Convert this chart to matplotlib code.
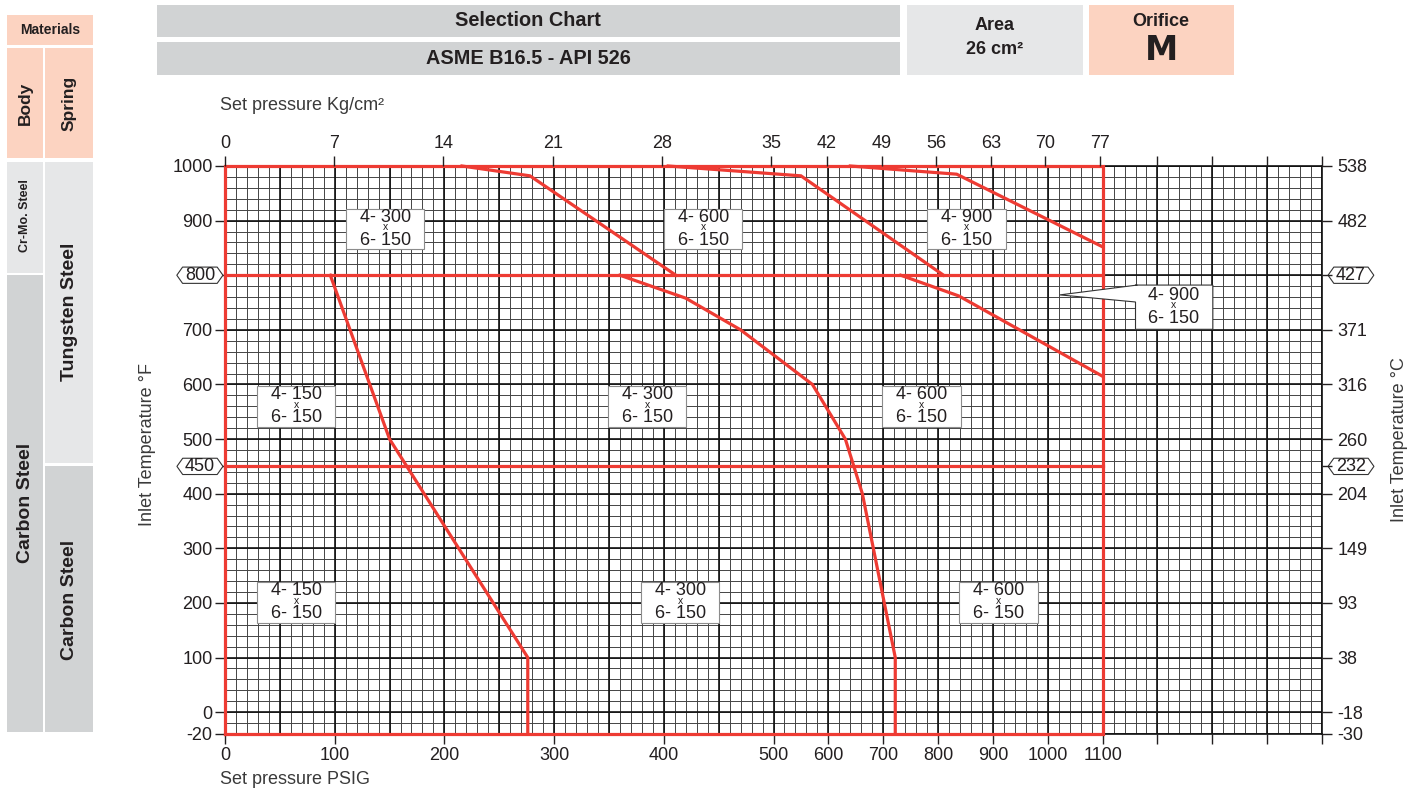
import numpy as np
import matplotlib
matplotlib.use("Agg")
import matplotlib.pyplot as plt
from matplotlib.patches import Rectangle, Polygon
from matplotlib.path import Path

plt.rcParams['font.family'] = ['Liberation Sans', 'DejaVu Sans']
COND = ['Liberation Sans Narrow', 'Liberation Sans', 'DejaVu Sans']

W, H = 1407, 799
RED = '#ee3b33'
INK = '#231f20'
PEACH = '#fcd3c1'
GRAY = '#d1d3d4'
LIGHT = '#e6e7e8'

# ---- data ----
psi_ticks = [0, 100, 200, 300, 400, 500, 600, 700, 800, 900, 1000, 1100]
kg_ticks = [0, 7, 14, 21, 28, 35, 42, 49, 56, 63, 70, 77]
temp_f = [1000, 900, 700, 600, 500, 400, 300, 200, 100, 0, -20]
temp_c = ['538', '482', '371', '316', '260', '204', '149', '93', '38', '-18', '-30']
band_f = [800, 450]
band_c = ['427', '232']

# boundary curves (psig, deg F)
curve_a_psi = [216, 278, 411]
curve_a_t = [1000, 982, 800]
curve_b_psi = [404, 550, 810]
curve_b_t = [1000, 982, 800]
curve_c_psi = [640, 834, 1100]
curve_c_t = [1000, 985, 852]
curve_d_psi = [96, 150, 276, 276]
curve_d_t = [800, 500, 100, -20]
curve_e_psi = [360, 420, 470, 571, 631, 662, 722, 722]
curve_e_t = [800, 758, 700, 600, 500, 400, 100, -20]
curve_f_psi = [732, 838, 1100]
curve_f_t = [800, 762, 615]

# region labels: inlet rating, position (psig, deg F)
region_rating = ['300', '600', '900', '150', '300', '600', '150', '300', '600']
region_psi = [146, 436, 852, 65, 385, 770, 65, 415, 910]
region_t = [885, 885, 885, 560, 560, 560, 201, 201, 201]


# chart paper: 10 psi per cell up to 500, 20 psi per cell above
def fwd_x(p):
    p = np.asarray(p, float)
    return np.where(p <= 500, p / 10.0, 50 + (p - 500) / 20.0)


def inv_x(u):
    u = np.asarray(u, float)
    return np.where(u <= 50, u * 10.0, 500 + (u - 50) * 20.0)


def fwd_y(t):
    t = np.asarray(t, float)
    return np.where(t >= 0, t / 20.0, t / 10.0)


def inv_y(v):
    v = np.asarray(v, float)
    return np.where(v >= 0, v * 20.0, v * 10.0)


def label_box(x0, y0, width, height, mutation_size):
    px, py = 0.75 * mutation_size, 0.02 * mutation_size
    x0, y0 = x0 - px, y0 - py
    w, h = width + 2 * px, height + 2 * py
    return Path([(x0, y0), (x0 + w, y0), (x0 + w, y0 + h), (x0, y0 + h), (x0, y0)], closed=True)


def hex_box(x0, y0, width, height, mutation_size):
    px, py = 0.12 * mutation_size, -0.02 * mutation_size
    d = 0.32 * mutation_size
    x0, y0 = x0 - px, y0 - py
    w, h = width + 2 * px, height + 2 * py
    return Path([(x0, y0), (x0 + w, y0), (x0 + w + d, y0 + h / 2), (x0 + w, y0 + h),
                 (x0, y0 + h), (x0 - d, y0 + h / 2), (x0, y0)], closed=True)


fig = plt.figure(figsize=(W / 100, H / 100), dpi=100)


def px_rect(x0, y0, x1, y1, color):
    fig.add_artist(Rectangle((x0 / W, 1 - y1 / H), (x1 - x0) / W, (y1 - y0) / H,
                             transform=fig.transFigure, fc=color, ec='none'))


def px_text(x, y, s, **kw):
    kw.setdefault('ha', 'center')
    kw.setdefault('va', 'center')
    kw.setdefault('color', INK)
    fig.text(x / W, 1 - y / H, s, **kw)


# header
px_rect(157, 5, 900, 37, GRAY)
px_rect(157, 42, 900, 75, GRAY)
px_rect(907, 5, 1083, 75, LIGHT)
px_rect(1089, 5, 1234, 75, PEACH)
px_text(528, 21, 'Selection Chart', family=COND, weight='bold', fontsize=14.3)
px_text(528, 59, 'ASME B16.5 - API 526', family=COND, weight='bold', fontsize=14.3)
px_text(995, 25, 'Area', family=COND, weight='bold', fontsize=13)
px_text(995, 50, '26 cm²', family=COND, weight='bold', fontsize=13)
px_text(1161, 21, 'Orifice', family=COND, weight='bold', fontsize=13)
px_text(1161, 51, 'M', family='DejaVu Sans', weight='bold', fontsize=24)

# materials column
px_rect(7, 15, 93, 45, PEACH)
px_rect(7, 48, 43, 158, PEACH)
px_rect(45, 48, 93, 158, PEACH)
px_rect(7, 162, 43, 273, LIGHT)
px_rect(45, 162, 93, 463, LIGHT)
px_rect(7, 275, 43, 732, GRAY)
px_rect(45, 466, 93, 732, GRAY)
px_text(50, 30, 'Materials', family=COND, weight='bold', fontsize=10)
px_text(25, 103, 'Body', family=COND, weight='bold', fontsize=12.5, rotation=90)
px_text(69, 103, 'Spring', family=COND, weight='bold', fontsize=12.5, rotation=90)
px_text(25, 216, 'Cr-Mo. Steel', family=COND, weight='bold', fontsize=9, rotation=90)
px_text(69, 312, 'Tungsten Steel', family=COND, weight='bold', fontsize=14, rotation=90)
px_text(25, 503, 'Carbon Steel', family=COND, weight='bold', fontsize=14, rotation=90)
px_text(69, 600, 'Carbon Steel', family=COND, weight='bold', fontsize=14, rotation=90)

# main chart
ax = fig.add_axes([225 / W, (H - 734) / H, (1322 - 225) / W, (734 - 166) / H])
ax.set_xscale('function', functions=(fwd_x, inv_x))
ax.set_yscale('function', functions=(fwd_y, inv_y))
ax.set_xlim(0, 1500)
ax.set_ylim(-20, 1000)

minor_x = list(range(0, 500, 10)) + list(range(500, 1501, 20))
major_x = list(range(0, 500, 50)) + list(range(500, 1501, 100))
minor_y = [-20, -10] + list(range(0, 1001, 20))
major_y = [-20] + list(range(0, 1001, 100))
ax.vlines(minor_x, -20, 1000, colors='#444444', lw=0.7, zorder=1)
ax.hlines(minor_y, 0, 1500, colors='#444444', lw=0.7, zorder=1)
ax.vlines(major_x, -20, 1000, colors='#111111', lw=1.2, zorder=1.5)
ax.hlines(major_y, 0, 1500, colors='#111111', lw=1.2, zorder=1.5)

# red boundaries
red = dict(color=RED, lw=2.3, zorder=4, solid_joinstyle='miter', clip_on=False)
ax.plot([0, 1100, 1100, 0, 0], [-20, -20, 1000, 1000, -20], **red)
for t in band_f:
    ax.plot([0, 1100], [t, t], **red)
for xs, ys in [(curve_a_psi, curve_a_t), (curve_b_psi, curve_b_t), (curve_c_psi, curve_c_t),
               (curve_d_psi, curve_d_t), (curve_e_psi, curve_e_t), (curve_f_psi, curve_f_t)]:
    ax.plot(xs, ys, **red)

# region labels
for rating, p, t in zip(region_rating, region_psi, region_t):
    ax.text(p, t, f'4- {rating}\n6- 150', ha='center', va='center', fontsize=13,
            linespacing=1.45, color=INK, zorder=5,
            bbox=dict(boxstyle=label_box, fc='white', ec='#8c8c8c', lw=0.8))
    ax.text(p, t + 3, 'x', ha='center', va='center', fontsize=7.5, color=INK, zorder=6)

# callout for the narrow 4-900 band
ax.add_patch(Polygon([(1160, 782), (1301, 782), (1301, 701), (1160, 701), (1160, 751),
                      (1022, 764), (1163, 782)], closed=True, fc='white', ec='#333333',
                     lw=0.8, zorder=5))
ax.text(1230, 742, '4- 900\n6- 150', ha='center', va='center', fontsize=13,
        linespacing=1.45, color=INK, zorder=6)
ax.text(1230, 745, 'x', ha='center', va='center', fontsize=7.5, color=INK, zorder=6)

for s in ax.spines.values():
    s.set_color('#111111')
    s.set_linewidth(1.2)

tick_kw = dict(direction='out', length=7, width=1, colors=INK, labelsize=13)
ax.set_xticks(psi_ticks + [1200, 1300, 1400, 1500])
ax.set_xticklabels([str(v) for v in psi_ticks] + [''] * 4)
ax.set_yticks(temp_f + band_f)
ax.set_yticklabels([str(v) for v in temp_f] + [''] * len(band_f))
ax.tick_params(axis='both', pad=2, **tick_kw)
ax.minorticks_off()

ax_top = ax.twiny()
ax_top.set_xscale('function', functions=(fwd_x, inv_x))
ax_top.set_xlim(0, 1500)
ax_top.set_xticks([k * 14.2233 for k in kg_ticks] + [1200, 1300, 1400, 1500])
ax_top.set_xticklabels([str(k) for k in kg_ticks] + [''] * 4)
ax_top.tick_params(axis='x', pad=3, **tick_kw)
ax_top.minorticks_off()

ax_r = ax.twinx()
ax_r.set_yscale('function', functions=(fwd_y, inv_y))
ax_r.set_ylim(-20, 1000)
ax_r.set_yticks(temp_f + band_f)
ax_r.set_yticklabels(temp_c + [''] * len(band_c))
ax_r.tick_params(axis='y', pad=4, **tick_kw)
ax_r.minorticks_off()
for a in (ax_top, ax_r):
    for s in a.spines.values():
        s.set_visible(False)

# hexagon labels for the material break temperatures
for tf, tc in zip(band_f, band_c):
    ax.annotate(str(tf), xy=(0, tf), xycoords=('axes fraction', 'data'), xytext=(-10, 0),
                textcoords='offset pixels', ha='right', va='center', fontsize=13, color=INK,
                bbox=dict(boxstyle=hex_box, fc='white', ec='#333333', lw=0.8), zorder=6,
                annotation_clip=False)
    ax.annotate(tc, xy=(1, tf), xycoords=('axes fraction', 'data'), xytext=(14, 0),
                textcoords='offset pixels', ha='left', va='center', fontsize=13, color=INK,
                bbox=dict(boxstyle=hex_box, fc='white', ec='#333333', lw=0.8), zorder=6,
                annotation_clip=False)

# axis titles
px_text(220, 106, 'Set pressure Kg/cm²', ha='left', fontsize=13, color='#3a3a3a')
px_text(220, 779, 'Set pressure PSIG', ha='left', fontsize=13, color='#3a3a3a')
px_text(148, 444, 'Inlet Temperature °F', rotation=90, fontsize=13, color='#3a3a3a')
px_text(1400, 440, 'Inlet Temperature °C', rotation=90, fontsize=13, color='#3a3a3a')

fig.savefig('out.png', dpi=100)
